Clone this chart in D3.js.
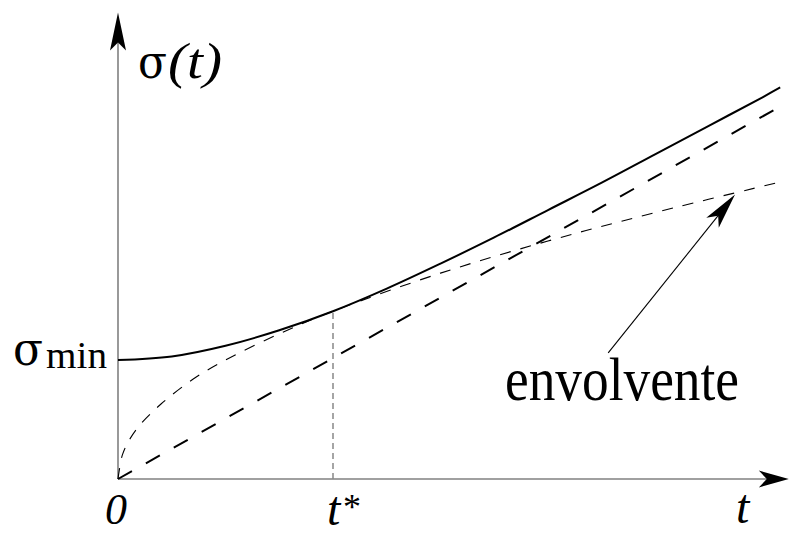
<!DOCTYPE html>
<html>
<head>
<meta charset="utf-8">
<script src="https://cdn.jsdelivr.net/npm/d3@7"></script>
<style>
  html, body { margin: 0; padding: 0; background: #fff; }
  svg { display: block; }
  text { font-family: "Liberation Serif", "Times New Roman", serif; fill: #000; }
  text.greek { font-family: "DejaVu Serif", "Liberation Serif", serif; }
</style>
</head>
<body>
<svg id="chart" width="795" height="535"></svg>
<script>
// Width of the wave packet, sigma(t), in units of sigma_min against t in units of t*
const sigmaT     = [0, 0.25, 0.5, 0.75, 1.0, 1.25, 1.5, 1.75, 2.0, 2.25, 2.5, 2.75, 3.0, 3.08];
const sigmaVals  = [1.00, 1.03, 1.12, 1.25, 1.41, 1.60, 1.81, 2.03, 2.26, 2.49, 2.73, 2.97, 3.21, 3.29];

// Asymptote of sigma(t) for large t
const asymT      = [0, 3.06];
const asymVals   = [0, 3.11];

// Envelope of the family of sigma(t) curves
const envT       = [0, 0.02, 0.05, 0.1, 0.2, 0.35, 0.5, 0.75, 1.0, 1.5, 2.0, 2.5, 3.09];
const envVals    = [0, 0.20, 0.32, 0.45, 0.63, 0.84, 1.00, 1.22, 1.41, 1.73, 2.00, 2.24, 2.50];

// Marked points on the axes
const tStar      = 1.0;
const sigmaMin   = 1.0;
const tStarSigma = 1.41;
const xAxisEnd   = 3.12;
const yAxisEnd   = 3.92;

// Arrow pointing at the envelope (start / tip)
const arrowFrom  = [2.28, 1.06];
const arrowTo    = [2.87, 2.39];

const svg = d3.select("#chart");

const x = d3.scaleLinear().domain([0, 1]).range([118, 333]);
const y = d3.scaleLinear().domain([0, 1]).range([479, 360]);

const zip = (a, b) => a.map((d, i) => [d, b[i]]);

// ---------- axes ----------
const axisColor = "#808080";
svg.append("line")
  .attr("x1", x(0)).attr("y1", y(0))
  .attr("x2", x(xAxisEnd) - 20).attr("y2", y(0))
  .attr("stroke", axisColor).attr("stroke-width", 1.6);
svg.append("line")
  .attr("x1", x(0)).attr("y1", y(0))
  .attr("x2", x(0)).attr("y2", y(yAxisEnd) + 30)
  .attr("stroke", axisColor).attr("stroke-width", 1.6);

// notched arrow head: tip at (tx,ty), pointing along angle a
function arrowHead(tx, ty, a, len, half, notch) {
  const c = Math.cos(a), s = Math.sin(a);
  const p = (u, v) => [tx - u * c - v * s, ty - u * s + v * c];
  const pts = [[tx, ty], p(len, half), p(len - notch, 0), p(len, -half)];
  svg.append("path")
    .attr("d", "M" + pts.map(q => q.join(",")).join("L") + "Z")
    .attr("fill", "#000");
}
arrowHead(x(xAxisEnd), y(0), 0, 30, 8.5, 8);
arrowHead(x(0), y(yAxisEnd), -Math.PI / 2, 38, 8, 8);

// ---------- curves ----------
const curveLine = d3.line()
  .x(d => x(d[0])).y(d => y(d[1]))
  .curve(d3.curveCatmullRom.alpha(0.5));

// vertical marker at t*
svg.append("line")
  .attr("x1", x(tStar)).attr("y1", y(0))
  .attr("x2", x(tStar)).attr("y2", y(tStarSigma))
  .attr("stroke", "#888").attr("stroke-width", 1.5)
  .attr("stroke-dasharray", "6,4");

// envelope (short dashes)
svg.append("path")
  .attr("d", curveLine(zip(envT, envVals)))
  .attr("fill", "none").attr("stroke", "#000")
  .attr("stroke-width", 1.1).attr("stroke-dasharray", "11,10");

// asymptote (long dashes)
svg.append("path")
  .attr("d", curveLine(zip(asymT, asymVals)))
  .attr("fill", "none").attr("stroke", "#000")
  .attr("stroke-width", 2).attr("stroke-dasharray", "16,16");

// sigma(t)
svg.append("path")
  .attr("d", curveLine(zip(sigmaT, sigmaVals)))
  .attr("fill", "none").attr("stroke", "#000")
  .attr("stroke-width", 2);

// arrow to the envelope
{
  const x1 = x(arrowFrom[0]), y1 = y(arrowFrom[1]);
  const x2 = x(arrowTo[0]),   y2 = y(arrowTo[1]);
  const a = Math.atan2(y2 - y1, x2 - x1);
  svg.append("line")
    .attr("x1", x1).attr("y1", y1)
    .attr("x2", x2 - 20 * Math.cos(a)).attr("y2", y2 - 20 * Math.sin(a))
    .attr("stroke", "#000").attr("stroke-width", 1.1);
  arrowHead(x2, y2, a, 36, 8, 9);
}

// ---------- labels ----------
// sigma(t) at the top of the vertical axis
svg.append("text").attr("class", "greek").attr("x", 138).attr("y", 78)
  .attr("font-size", 46).attr("textLength", 29).attr("lengthAdjust", "spacingAndGlyphs")
  .text("σ");
svg.append("text").attr("x", 168).attr("y", 78)
  .attr("font-size", 50).attr("font-style", "italic")
  .attr("textLength", 54).attr("lengthAdjust", "spacingAndGlyphs")
  .text("(t)");

// sigma_min on the vertical axis
svg.append("text").attr("class", "greek").attr("x", 13).attr("y", y(sigmaMin) + 5)
  .attr("font-size", 46).attr("textLength", 30).attr("lengthAdjust", "spacingAndGlyphs")
  .text("σ");
svg.append("text").attr("x", 46).attr("y", y(sigmaMin) + 8)
  .attr("font-size", 38).attr("textLength", 61).attr("lengthAdjust", "spacingAndGlyphs")
  .text("min");

// horizontal axis labels
svg.append("text").attr("x", x(0) - 13).attr("y", 524)
  .attr("font-size", 44).attr("font-style", "italic")
  .text("0");
svg.append("text").attr("x", x(tStar) - 6).attr("y", 525)
  .attr("font-size", 48).attr("font-style", "italic")
  .text("t");
svg.append("text").attr("x", x(tStar) + 10).attr("y", 519)
  .attr("font-size", 36)
  .text("*");
svg.append("text").attr("x", 736).attr("y", 523)
  .attr("font-size", 48).attr("font-style", "italic")
  .text("t");

// envelope caption
svg.append("text").attr("x", 505).attr("y", 400)
  .attr("font-size", 62).attr("textLength", 234).attr("lengthAdjust", "spacingAndGlyphs")
  .text("envolvente");
</script>
</body>
</html>
